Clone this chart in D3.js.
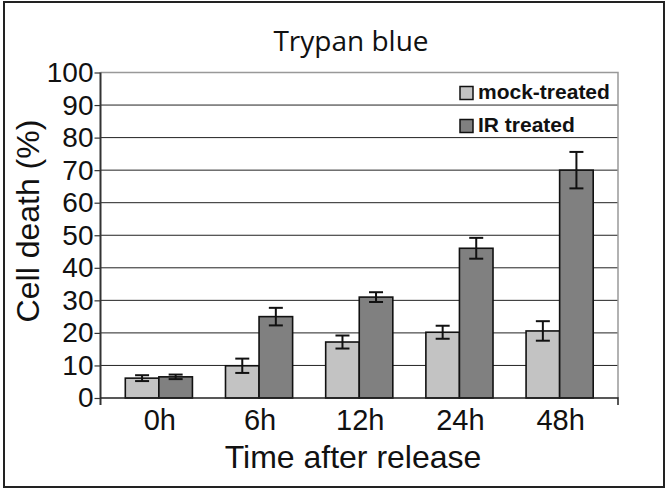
<!DOCTYPE html>
<html>
<head>
<meta charset="utf-8">
<script src="https://cdn.jsdelivr.net/npm/d3@7"></script>
<style>
  html, body { margin: 0; padding: 0; background: #fff; }
  svg { display: block; }
  text { font-family: "Liberation Sans", Arial, sans-serif; fill: #111; }
</style>
</head>
<body>
<svg id="chart" width="666" height="489"></svg>
<script>
const categories = ["0h", "6h", "12h", "24h", "48h"];
const seriesNames = ["mock-treated", "IR treated"];
const mockValues = [6.1, 9.9, 17.2, 20.2, 20.6];
const mockErrors = [0.9, 2.2, 2.0, 2.0, 3.0];
const irValues = [6.5, 25.0, 31.0, 46.0, 70.0];
const irErrors = [0.7, 2.7, 1.5, 3.2, 5.6];
const yTicks = [0, 10, 20, 30, 40, 50, 60, 70, 80, 90, 100];

const svg = d3.select("#chart");

const plot = { left: 100.5, right: 618, top: 72.5, bottom: 398 };
const colors = ["#c3c3c3", "#808080"];

const data = categories.map((c, i) => ({
  cat: c,
  bars: [
    { s: 0, v: mockValues[i], e: mockErrors[i] },
    { s: 1, v: irValues[i], e: irErrors[i] }
  ]
}));

// outer frame
svg.append("rect")
  .attr("x", 4).attr("y", 2)
  .attr("width", 660).attr("height", 485)
  .attr("fill", "none")
  .attr("stroke", "#222")
  .attr("stroke-width", 2);

const x = d3.scaleBand()
  .domain(categories)
  .range([plot.left, plot.right])
  .paddingInner(0.33)
  .paddingOuter(0.2475);

const xInner = d3.scaleBand()
  .domain([0, 1])
  .range([0, x.bandwidth()]);

const y = d3.scaleLinear()
  .domain([0, 100])
  .range([plot.bottom, plot.top]);

// gridlines
svg.append("g")
  .selectAll("line")
  .data(yTicks.filter(t => t > 0 && t < 100))
  .join("line")
  .attr("x1", plot.left).attr("x2", plot.right)
  .attr("y1", d => y(d)).attr("y2", d => y(d))
  .attr("stroke", "#222")
  .attr("stroke-width", 1);

// plot top / right border
svg.append("path")
  .attr("d", `M${plot.left},${y(100)}H${plot.right}V${plot.bottom}`)
  .attr("fill", "none")
  .attr("stroke", "#999")
  .attr("stroke-width", 1.5);

// y axis
const yAxis = svg.append("g")
  .attr("transform", `translate(${plot.left},0)`)
  .call(d3.axisLeft(y).tickValues(yTicks).tickSize(6).tickPadding(1));
yAxis.select(".domain")
  .attr("d", `M0,${y(100)}V${plot.bottom + 7}`)
  .attr("stroke", "#333")
  .attr("stroke-width", 2);
yAxis.selectAll(".tick line").attr("stroke", "#333").attr("stroke-width", 1.2);
yAxis.selectAll(".tick text")
  .attr("font-size", 28)
  .attr("fill", "#111")
  .style("font-family", '"Liberation Sans", Arial, sans-serif');

// bars
const groups = svg.append("g")
  .selectAll("g")
  .data(data)
  .join("g")
  .attr("transform", d => `translate(${x(d.cat)},0)`);

groups.selectAll("rect")
  .data(d => d.bars)
  .join("rect")
  .attr("x", d => xInner(d.s))
  .attr("y", d => y(d.v))
  .attr("width", xInner.bandwidth())
  .attr("height", d => y(0) - y(d.v))
  .attr("fill", d => colors[d.s])
  .attr("stroke", "#111")
  .attr("stroke-width", 1.6);

// error bars
const capW = 14;
const err = groups.selectAll("g.err")
  .data(d => d.bars)
  .join("g")
  .attr("class", "err")
  .attr("stroke", "#111")
  .attr("stroke-width", 2);
err.append("line")
  .attr("x1", d => xInner(d.s) + xInner.bandwidth() / 2)
  .attr("x2", d => xInner(d.s) + xInner.bandwidth() / 2)
  .attr("y1", d => y(d.v + d.e))
  .attr("y2", d => y(d.v - d.e));
err.selectAll("line.cap")
  .data(d => [{ s: d.s, val: d.v + d.e }, { s: d.s, val: d.v - d.e }])
  .join("line")
  .attr("class", "cap")
  .attr("x1", d => xInner(d.s) + xInner.bandwidth() / 2 - capW / 2)
  .attr("x2", d => xInner(d.s) + xInner.bandwidth() / 2 + capW / 2)
  .attr("y1", d => y(d.val))
  .attr("y2", d => y(d.val));

// x axis line
svg.append("path")
  .attr("d", `M${plot.left},${plot.bottom}H${plot.right}V${plot.bottom + 7}`)
  .attr("fill", "none")
  .attr("stroke", "#222")
  .attr("stroke-width", 1.5);

// x tick labels
svg.append("g")
  .selectAll("text")
  .data(categories)
  .join("text")
  .attr("x", d => x(d) + x.bandwidth() / 2 + 1)
  .attr("y", 430)
  .attr("text-anchor", "middle")
  .attr("font-size", 29)
  .text(d => d);

// axis titles
svg.append("text")
  .attr("x", 353)
  .attr("y", 468)
  .attr("text-anchor", "middle")
  .attr("font-size", 32)
  .text("Time after release");

svg.append("text")
  .attr("transform", "translate(39,221) rotate(-90)")
  .attr("text-anchor", "middle")
  .attr("font-size", 32)
  .text("Cell death (%)");

svg.append("text")
  .attr("x", 351)
  .attr("y", 51)
  .attr("text-anchor", "middle")
  .attr("font-size", 28)
  .style("font-family", '"Open Sans", "Noto Sans", sans-serif')
  .attr("fill", "#222")
  .text("Trypan blue");

// legend
const legend = svg.append("g")
  .selectAll("g")
  .data(seriesNames)
  .join("g")
  .attr("transform", (d, i) => `translate(460,${86.5 + i * 33})`);
legend.append("rect")
  .attr("width", 13).attr("height", 13)
  .attr("fill", (d, i) => colors[i])
  .attr("stroke", "#111")
  .attr("stroke-width", 1.5);
legend.append("text")
  .attr("x", 18)
  .attr("y", 12)
  .attr("font-size", 21)
  .attr("font-weight", "bold")
  .attr("fill", "#222")
  .text(d => d);
</script>
</body>
</html>
